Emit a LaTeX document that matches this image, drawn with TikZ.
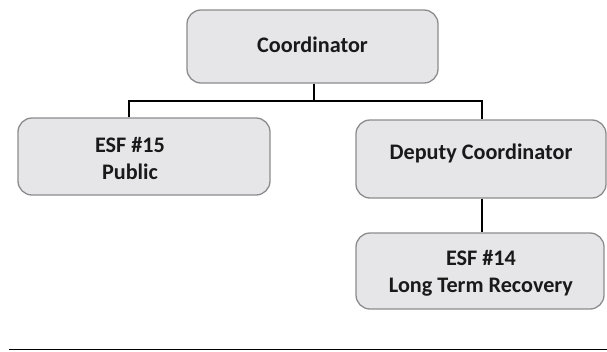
\documentclass[tikz,border=0pt]{standalone}
\usepackage{fontspec}
\setmainfont{Carlito}
\begin{document}
\begin{tikzpicture}[x=1pt,y=-1pt,
  orgbox/.style={draw=boxline, fill=boxfill, line width=1.3pt, rounded corners=14pt,
    inner sep=0pt, rectangle},
  label/.style={inner sep=0pt, align=center, anchor=base,
    font=\fontsize{22.2}{26.5}\selectfont\bfseries, text=black!90},
  link/.style={draw=black, line width=1.3pt}]
\definecolor{boxfill}{HTML}{E6E6E9}
\definecolor{boxline}{HTML}{8C8C8E}
\useasboundingbox (0,0) rectangle (607,351);

% boxes
\node[orgbox, minimum width=251pt, minimum height=73pt] (coord) at (312.5,46.5) {};
\node[orgbox, minimum width=252pt, minimum height=77pt] (esf15) at (144,156.5) {};
\node[orgbox, minimum width=250pt, minimum height=78pt] (deputy) at (481,159) {};
\node[orgbox, minimum width=248pt, minimum height=76pt] (esf14) at (480,271) {};

% texts (anchored on the baseline of the last line)
\node[label] (tcoord) at (312.5,52) {Coordinator};
\node[label] (tesf15) at (130,179) {ESF \#15\\Public};
\node[label] (tdeputy) at (481,159) {Deputy Coordinator};
\node[label] (tesf14) at (481,292) {ESF \#14\\Long Term Recovery};

% connectors
\coordinate (bus) at (314,101);
\coordinate (busl) at (129,101);
\coordinate (busr) at (482,101);
\draw[link] (coord.south -| bus) -- (bus);
\draw[link] (esf15.north -| busl) -- (busl) -- (busr) -- (deputy.north -| busr);
\draw[link] (deputy.south -| busr) -- (esf14.north -| busr);

% rule along the foot
\coordinate (ruleA) at (9,349.8);
\coordinate (ruleB) at (607,349.8);
\draw[line width=1.2pt] (ruleA) -- (ruleB);
\end{tikzpicture}
\end{document}
